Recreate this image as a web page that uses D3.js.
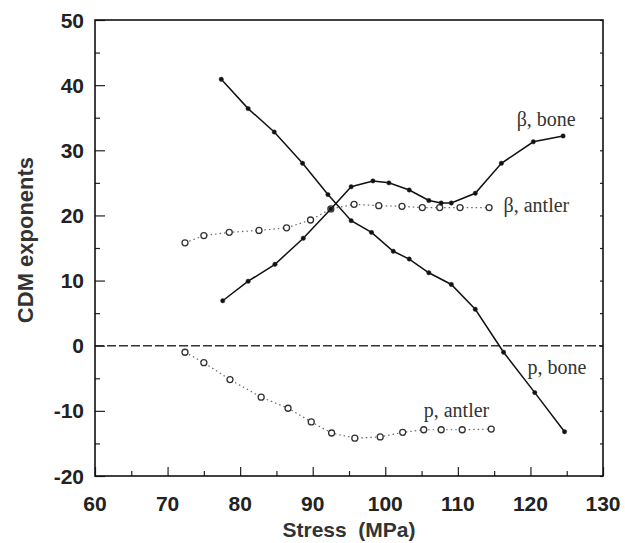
<!DOCTYPE html>
<html><head><meta charset="utf-8">
<script src="https://cdn.jsdelivr.net/npm/d3@7/dist/d3.min.js"></script>
<style>body{margin:0;background:#fff}svg{display:block}</style>
</head><body>
<svg id="c" width="625" height="543"></svg>
<script>
const xTicks=[60,70,80,90,100,110,120,130];
const yTicks=[-20,-10,0,10,20,30,40,50];
const betaBoneX=[77.6,81.1,84.8,88.7,92.5,95.3,98.3,100.5,103.3,106.0,107.7,109.1,112.4,116.0,120.4,124.5];
const betaBoneY=[6.9,9.9,12.5,16.5,21.0,24.4,25.3,25.0,23.9,22.3,21.9,21.9,23.4,28.0,31.3,32.2];
const pBoneX=[77.4,81.1,84.7,88.6,92.1,95.3,98.1,101.1,103.3,106.0,109.1,112.4,116.3,120.6,124.7];
const pBoneY=[40.9,36.4,32.8,28.0,23.2,19.2,17.4,14.5,13.3,11.2,9.4,5.6,-1.0,-7.2,-13.2];
const betaAntlerX=[72.4,75.0,78.5,82.6,86.4,89.7,92.5,95.7,99.1,102.3,105.1,107.5,110.3,114.3];
const betaAntlerY=[15.8,16.9,17.4,17.7,18.1,19.3,21.0,21.7,21.5,21.4,21.2,21.2,21.2,21.2];
const pAntlerX=[72.4,75.0,78.6,82.9,86.6,89.8,92.6,95.8,99.3,102.4,105.3,107.7,110.6,114.6];
const pAntlerY=[-1.0,-2.6,-5.2,-7.9,-9.6,-11.7,-13.4,-14.2,-14.0,-13.3,-12.9,-12.9,-12.9,-12.8];
const labels=[
 {t:"β, bone", x:118.1, y:33.7},
 {t:"β, antler", x:116.3, y:20.5},
 {t:"p, bone", x:119.6, y:-4.3},
 {t:"p, antler", x:105.3, y:-10.9}
];

const svg=d3.select("#c");
const L=95,R=603,T=20,B=476;
const x=d3.scaleLinear().domain([60,130]).range([L,R]);
const y=d3.scaleLinear().domain([-20,50]).range([B,T]);

svg.append("line").attr("x1",L).attr("x2",R).attr("y1",y(0)).attr("y2",y(0))
 .attr("stroke","#333").attr("stroke-width",1.4).attr("stroke-dasharray","9,3");

const tickFont='bold 21px "Liberation Sans", Arial, sans-serif';
const gx=svg.append("g").attr("transform",`translate(0,${B})`)
 .call(d3.axisTop(x).tickValues(d3.range(60,131,5)).tickSize(5).tickFormat(""));
gx.selectAll(".tick line").attr("y2",d=>d%10===0?-9:-5);
const gy=svg.append("g").attr("transform",`translate(${L},0)`)
 .call(d3.axisRight(y).tickValues(d3.range(-20,51,5)).tickSize(5).tickFormat(""));
gy.selectAll(".tick line").attr("x2",d=>d%10===0?10:5);
const gr=svg.append("g").attr("transform",`translate(${R},0)`)
 .call(d3.axisLeft(y).tickValues(d3.range(-20,51,5)).tickSize(3).tickFormat(""));
[gx,gy,gr].forEach(g=>{g.select(".domain").remove();g.selectAll(".tick line").attr("stroke","#222").attr("stroke-width",1.2);});

svg.append("rect").attr("x",L).attr("y",T).attr("width",R-L).attr("height",B-T)
 .attr("fill","none").attr("stroke","#111").attr("stroke-width",1.6);

svg.append("g").selectAll("text").data(xTicks).join("text")
 .attr("x",d=>x(d)).attr("y",B+35).attr("text-anchor","middle")
 .style("font",tickFont).attr("fill","#222").text(d=>d);
svg.append("g").selectAll("text").data(yTicks).join("text")
 .attr("x",L-11).attr("y",d=>y(d)+7.5).attr("text-anchor","end")
 .style("font",tickFont).attr("fill","#222").text(d=>d);

svg.append("text").attr("x",349).attr("y",537).attr("text-anchor","middle")
 .style("font",'bold 21px "Liberation Sans", Arial, sans-serif').attr("fill","#333")
 .style("white-space","pre").text("Stress  (MPa)");
svg.append("text").attr("transform",`translate(33,240) rotate(-90)`).attr("text-anchor","middle")
 .style("font",'bold 22px "Liberation Sans", Arial, sans-serif').attr("fill","#333").text("CDM exponents");

const line=d3.line().x(d=>x(d[0])).y(d=>y(d[1]));
function series(xs,ys,solid){
 const pts=xs.map((v,i)=>[v,ys[i]]);
 svg.append("path").datum(pts).attr("d",line).attr("fill","none")
  .attr("stroke",solid?"#111":"#666").attr("stroke-width",solid?1.5:1.2)
  .attr("stroke-dasharray",solid?null:"1.5,3");
 svg.append("g").selectAll("circle").data(pts).join("circle")
  .attr("cx",d=>x(d[0])).attr("cy",d=>y(d[1]))
  .attr("r",solid?2.2:3)
  .attr("fill",solid?"#111":"#fff").attr("stroke","#333").attr("stroke-width",solid?0.5:1.3);
}
series(betaAntlerX,betaAntlerY,false);
series(pAntlerX,pAntlerY,false);
series(betaBoneX,betaBoneY,true);
series(pBoneX,pBoneY,true);

svg.append("g").selectAll("text").data(labels).join("text")
 .attr("x",d=>x(d.x)).attr("y",d=>y(d.y))
 .style("font",'20px "Liberation Serif", "Times New Roman", serif').attr("fill","#333").text(d=>d.t);
</script>
</body></html>
